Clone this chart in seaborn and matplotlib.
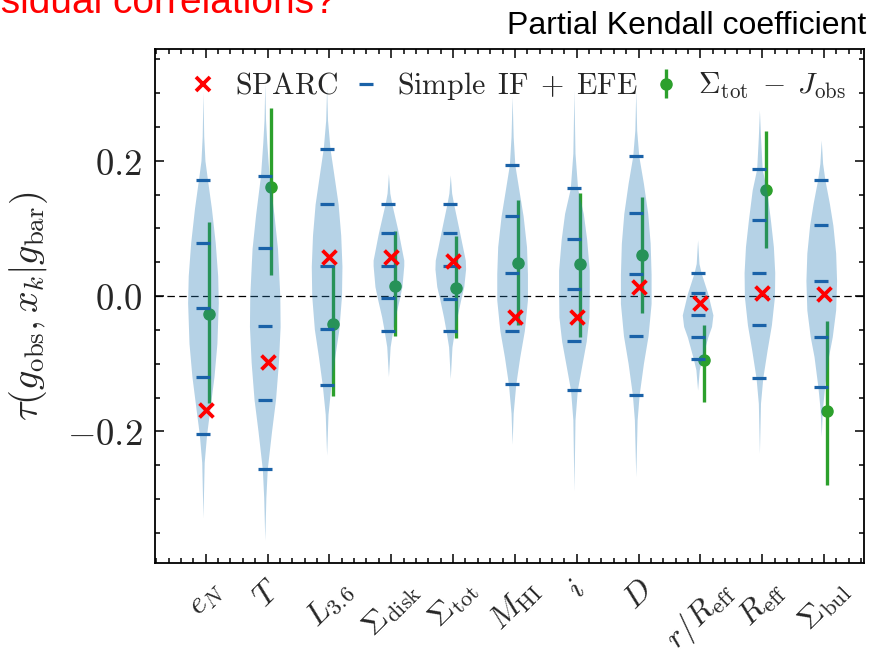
import numpy as np
import matplotlib
matplotlib.use("Agg")
import matplotlib.pyplot as plt
import seaborn as sns
import pandas as pd
from matplotlib.lines import Line2D
from matplotlib.ticker import MultipleLocator, FixedLocator

# ---------------- data ----------------
labels = [r'$e_N$', r'$T$', r'$L_{3.6}$', r'$\Sigma_{\rm disk}$', r'$\Sigma_{\rm tot}$',
          r'$M_{\rm HI}$', r'$i$', r'$D$', r'$r/R_{\rm eff}$', r'$R_{\rm eff}$',
          r'$\Sigma_{\rm bul}$']

# SPARC partial Kendall tau
sparc_tau = [-0.169, -0.098, 0.058, 0.057, 0.052, -0.0315, -0.0305, 0.014, -0.011, 0.0045, 0.0035]

# Sigma_tot - J_obs : central value and range ends
jobs_tau = [-0.027, 0.1616, -0.042, 0.0148, 0.0113, 0.049, 0.048, 0.061, -0.0946, 0.157, -0.170]
jobs_top = [0.110, 0.2774, 0.046, 0.096, 0.089, 0.142, 0.152, 0.146, -0.043, 0.2444, -0.0365]
jobs_bot = [-0.1586, 0.031, -0.148, -0.059, -0.0626, -0.043, -0.061, -0.0256, -0.156, 0.0705, -0.279]

# Simple IF + EFE mock distribution: quantile markers
q_975 = [0.171, 0.178, 0.218, 0.136, 0.136, 0.1937, 0.159, 0.2065, 0.0335, 0.1877, 0.1715]
q_84 = [0.079, 0.0705, 0.136, 0.0927, 0.0927, 0.118, 0.084, 0.122, 0.004, 0.112, 0.1045]
q_50 = [-0.018, -0.045, 0.044, 0.045, 0.045, 0.0335, 0.011, 0.032, -0.028, 0.0345, 0.0227]
q_16 = [-0.119, -0.153, -0.049, -0.0034, -0.0044, -0.051, -0.067, -0.059, -0.061, -0.043, -0.060]
q_025 = [-0.204, -0.256, -0.132, -0.051, -0.051, -0.130, -0.139, -0.146, -0.0927, -0.121, -0.134]

# violin outlines: (tau, relative width)
violin_eN = [(0.302, 0), (0.236, 0.05), (0.20, 0.13), (0.171, 0.30), (0.13, 0.55), (0.079, 0.80),
             (0.03, 0.96), (-0.01, 1.0), (-0.07, 0.91), (-0.119, 0.72), (-0.169, 0.44),
             (-0.204, 0.24), (-0.246, 0.08), (-0.328, 0)]
violin_T = [(0.314, 0), (0.26, 0.05), (0.227, 0.13), (0.178, 0.28), (0.12, 0.60), (0.07, 0.83),
            (0.0, 0.98), (-0.045, 1.0), (-0.098, 0.89), (-0.153, 0.70), (-0.20, 0.44),
            (-0.256, 0.16), (-0.298, 0.07), (-0.361, 0)]
violin_L36 = [(0.309, 0), (0.26, 0.06), (0.218, 0.22), (0.175, 0.50), (0.136, 0.75), (0.09, 0.92),
              (0.044, 1.0), (0.0, 0.97), (-0.049, 0.80), (-0.09, 0.53), (-0.132, 0.28),
              (-0.175, 0.09), (-0.235, 0)]
violin_Sdisk = [(0.181, 0), (0.152, 0.09), (0.136, 0.22), (0.0927, 0.66), (0.053, 1.0), (0.045, 1.0),
                (0.014, 0.88), (-0.0034, 0.72), (-0.031, 0.44), (-0.051, 0.28), (-0.075, 0.11),
                (-0.119, 0)]
violin_Stot = [(0.179, 0), (0.152, 0.09), (0.136, 0.22), (0.0927, 0.62), (0.053, 0.98), (0.04, 1.0),
               (0.014, 0.88), (-0.0044, 0.69), (-0.031, 0.44), (-0.051, 0.28), (-0.075, 0.11),
               (-0.122, 0)]
violin_MHI = [(0.295, 0), (0.2355, 0.07), (0.1937, 0.18), (0.157, 0.44), (0.118, 0.72), (0.073, 0.94),
              (0.0335, 1.0), (-0.006, 1.0), (-0.051, 0.80), (-0.09, 0.50), (-0.130, 0.24),
              (-0.173, 0.07), (-0.219, 0)]
violin_i = [(0.304, 0), (0.211, 0.07), (0.159, 0.24), (0.122, 0.61), (0.084, 0.83), (0.038, 1.0),
            (0.011, 1.0), (-0.031, 0.98), (-0.067, 0.80), (-0.104, 0.50), (-0.139, 0.22),
            (-0.183, 0.07), (-0.288, 0)]
violin_D = [(0.304, 0), (0.245, 0.06), (0.2065, 0.20), (0.1665, 0.50), (0.122, 0.78), (0.078, 0.94),
            (0.032, 1.0), (-0.011, 1.0), (-0.059, 0.80), (-0.0995, 0.50), (-0.146, 0.22),
            (-0.183, 0.09), (-0.267, 0)]
violin_rReff = [(0.083, 0), (0.048, 0.09), (0.0335, 0.24), (0.004, 0.66), (-0.028, 1.0),
                (-0.045, 0.91), (-0.061, 0.66), (-0.0927, 0.28), (-0.109, 0.11), (-0.139, 0)]
violin_Reff = [(0.275, 0), (0.2355, 0.07), (0.1877, 0.18), (0.157, 0.47), (0.112, 0.72), (0.073, 0.91),
               (0.0345, 1.0), (-0.001, 0.98), (-0.0429, 0.78), (-0.08, 0.50), (-0.121, 0.22),
               (-0.1586, 0.07), (-0.2325, 0)]
violin_Sbul = [(0.2306, 0), (0.196, 0.09), (0.1715, 0.24), (0.137, 0.53), (0.1045, 0.76),
               (0.0634, 0.94), (0.0227, 1.0), (-0.0207, 0.94), (-0.060, 0.72), (-0.0897, 0.47),
               (-0.134, 0.22), (-0.1685, 0.07), (-0.208, 0)]

violin_shapes = [violin_eN, violin_T, violin_L36, violin_Sdisk, violin_Stot, violin_MHI,
                 violin_i, violin_D, violin_rReff, violin_Reff, violin_Sbul]

# ---------------- style ----------------
sns.set_style("ticks")
plt.rcParams['mathtext.fontset'] = 'cm'
plt.rcParams['font.family'] = ['DejaVu Serif']

VIOLIN_C = '#1f77b4'
DASH_C = '#1a62a8'
GREEN_C = '#2ca02c'

fig = plt.figure(figsize=(8.71, 6.64), dpi=100)
ax = fig.add_axes([0.178, 0.1517, 0.814, 0.7741])

n = len(labels)
xpos = np.arange(n)
v_dx = -0.045
g_dx = 0.055
half_w = 0.248

# zero line
ax.axhline(0.0, color='k', lw=0.9, ls=(0, (6, 3.5)), zorder=1)

# green error bars (under the violins)
jobs_tau_a = np.array(jobs_tau)
yerr = [jobs_tau_a - np.array(jobs_bot), np.array(jobs_top) - jobs_tau_a]
eb = ax.errorbar(xpos + g_dx, jobs_tau, yerr=yerr, fmt='o', color=GREEN_C, ms=8,
                 elinewidth=2.4, capsize=0, zorder=2, label=r'$\Sigma_{\rm tot}-J_{\rm obs}$')

# violins
for k, shape in enumerate(violin_shapes):
    yv = np.array([p[0] for p in shape])
    wv = np.array([p[1] for p in shape]) * half_w
    cx = xpos[k] + v_dx
    ax.fill_betweenx(yv, cx - wv, cx + wv, color=VIOLIN_C, alpha=0.33, lw=0, zorder=3)

# quantile dashes
qdf = pd.DataFrame({
    'x': np.tile(xpos + v_dx, 5),
    'tau': np.concatenate([q_975, q_84, q_50, q_16, q_025]),
})
sns.scatterplot(data=qdf, x='x', y='tau', marker='_', s=115, linewidth=2.3,
                color=DASH_C, ax=ax, zorder=4, legend=False)

# SPARC crosses
sdf = pd.DataFrame({'x': xpos.astype(float), 'tau': sparc_tau})
sns.scatterplot(data=sdf, x='x', y='tau', marker='x', s=100, linewidth=2.7,
                color='red', ax=ax, zorder=5, legend=False)

# axes
ax.set_xlim(-0.82, 10.647)
ax.set_ylim(-0.395, 0.3647)
ax.xaxis.set_major_locator(FixedLocator(xpos))
ax.xaxis.set_minor_locator(MultipleLocator(0.2))
ax.set_xticklabels(labels, rotation=45, ha='center', fontsize=23)
ax.set_yticks([-0.2, 0.0, 0.2])
ax.set_yticklabels([r'$-0.2$', r'$0.0$', r'$0.2$'], fontsize=26.5)
ax.yaxis.set_minor_locator(MultipleLocator(0.05))
ax.tick_params(which='both', direction='in', top=True, right=True, width=1.1, color='k')
ax.tick_params(which='major', length=6.5)
ax.tick_params(which='minor', length=3.5)
ax.tick_params(axis='y', which='major', pad=9)
ax.tick_params(axis='x', which='major', pad=8)
for sp in ax.spines.values():
    sp.set_linewidth(1.3)
    sp.set_color('k')
ax.set_xlabel('')
ax.set_ylabel(r'$\tau(g_{\rm obs}, x_k|g_{\rm bar})$', fontsize=27.5, labelpad=12)

# legend
h_sparc = Line2D([], [], marker='x', color='red', ls='none', ms=10, mew=2.7)
h_if = Line2D([], [], marker='_', color=DASH_C, ls='none', ms=10.6, mew=2.3)
ax.legend([h_sparc, h_if, eb],
          [r'$\mathrm{SPARC}$', r'$\mathrm{Simple\ \,IF}\;+\;\mathrm{EFE}$',
           r'$\Sigma_{\rm tot}\;-\;J_{\rm obs}$'],
          loc='upper left', bbox_to_anchor=(0.009, 1.012), ncol=3, frameon=False,
          fontsize=21.5, handlelength=1.0, handletextpad=0.55, columnspacing=0.45)

# header texts
fig.text(336 / 871, 1 - 13 / 664, 'Residual correlations?', color='red', fontsize=28,
         ha='right', va='baseline', family='Liberation Sans')
fig.text(866 / 871, 1 - 34 / 664, 'Partial Kendall coefficient', color='black', fontsize=23,
         ha='right', va='baseline', family='Liberation Sans')

fig.savefig('out.png', dpi=100)
